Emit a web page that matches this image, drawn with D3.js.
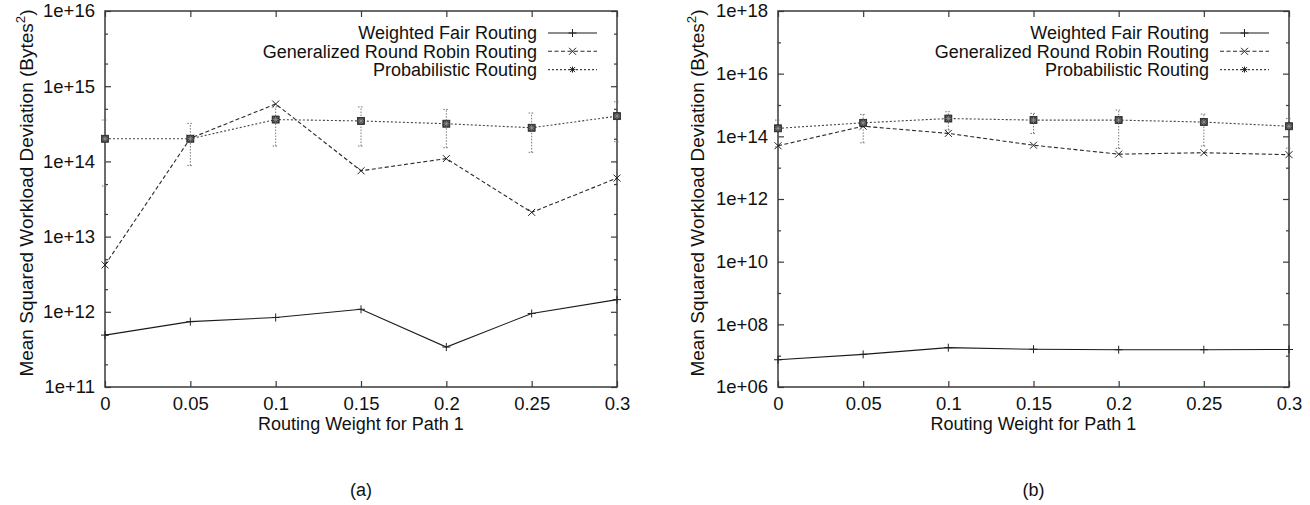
<!DOCTYPE html>
<html>
<head>
<meta charset="utf-8">
<script src="https://cdn.jsdelivr.net/npm/d3@7"></script>
<style>
  html, body { margin: 0; padding: 0; background: #fff; }
  svg { display: block; font-family: "Liberation Sans", Arial, sans-serif; }
</style>
</head>
<body>
<svg id="chart" width="1310" height="505"></svg>
<script>
// Routing weight for path 1 (shared x values)
const xVals = [0, 0.05, 0.1, 0.15, 0.2, 0.25, 0.3];
const xTickLabels = ["0", "0.05", "0.1", "0.15", "0.2", "0.25", "0.3"];

const seriesNames = ["Weighted Fair Routing", "Generalized Round Robin Routing", "Probabilistic Routing"];

// Panel (a)
const wfrA = [4.9e11, 7.4e11, 8.4e11, 1.08e12, 3.4e11, 9.5e11, 1.45e12];
const grrA = [4.2e12, 2.03e14, 5.8e14, 7.5e13, 1.09e14, 2.1e13, 6.0e13];
const probA = [2.0e14, 2.0e14, 3.6e14, 3.45e14, 3.17e14, 2.8e14, 4.0e14];
const probALow = [4.7e13, 8.8e13, 1.6e14, 1.6e14, 1.52e14, 1.32e14, 1.83e14];
const probAHigh = [3.55e14, 3.2e14, 5.3e14, 5.3e14, 4.9e14, 4.4e14, 6.2e14];
const yTicksA = [1e11, 1e12, 1e13, 1e14, 1e15, 1e16];
const yTickLabelsA = ["1e+11", "1e+12", "1e+13", "1e+14", "1e+15", "1e+16"];

// Panel (b)
const wfrB = [7.4e6, 1.1e7, 1.8e7, 1.6e7, 1.55e7, 1.55e7, 1.57e7];
const grrB = [5.0e13, 2.1e14, 1.24e14, 5.2e13, 2.7e13, 3.0e13, 2.6e13];
const probB = [1.8e14, 2.7e14, 3.7e14, 3.3e14, 3.3e14, 2.85e14, 2.1e14];
const probBLow = [4.6e13, 6.2e13, 1.6e14, 1.24e14, 4.1e13, 4.9e13, 4.2e13];
const probBHigh = [3.3e14, 5.0e14, 6.1e14, 5.4e14, 6.9e14, 5.1e14, 3.7e14];
const yTicksB = [1e6, 1e8, 1e10, 1e12, 1e14, 1e16, 1e18];
const yTickLabelsB = ["1e+06", "1e+08", "1e+10", "1e+12", "1e+14", "1e+16", "1e+18"];

const xTitle = "Routing Weight for Path 1";
const panelCaptions = ["(a)", "(b)"];

const TICK_FONT = 18.5;
const LEGEND_FONT = 18;
const TITLE_FONT = 18;
const YTITLE_FONT = 19;
const svg = d3.select("#chart");

const styles = {
  wfr:  { stroke: "#1a1a1a", dash: null,  width: 1.1 },
  grr:  { stroke: "#2a2a2a", dash: "4,2.5", width: 1.1 },
  prob: { stroke: "#444",    dash: "2,2", width: 1.1 }
};

function drawMarker(g, type, cx, cy) {
  if (type === "wfr") {
    g.append("path").attr("d", `M${cx - 4},${cy}H${cx + 4}M${cx},${cy - 4}V${cy + 4}`)
      .attr("stroke", "#222").attr("stroke-width", 1);
  } else if (type === "grr") {
    g.append("path").attr("d", `M${cx - 3.5},${cy - 3.5}L${cx + 3.5},${cy + 3.5}M${cx - 3.5},${cy + 3.5}L${cx + 3.5},${cy - 3.5}`)
      .attr("stroke", "#222").attr("stroke-width", 1);
  } else {
    g.append("rect").attr("x", cx - 3.5).attr("y", cy - 3.5).attr("width", 7).attr("height", 7)
      .attr("fill", "#3f3f3f").attr("stroke", "#222").attr("stroke-width", 0.8);
    g.append("path").attr("d", `M${cx - 3},${cy}H${cx + 3}M${cx},${cy - 3}V${cy + 3}M${cx - 2.2},${cy - 2.2}L${cx + 2.2},${cy + 2.2}M${cx - 2.2},${cy + 2.2}L${cx + 2.2},${cy - 2.2}`)
      .attr("stroke", "#999").attr("stroke-width", 0.7);
  }
}

function panel(opts) {
  const { x0, x1, y0, y1, domainY, majors, majorLabels, minors, wfr, grr, prob, low, high, caption } = opts;
  const g = svg.append("g");
  const x = d3.scaleLinear().domain([0, 0.3]).range([x0, x1]);
  const y = d3.scaleLog().domain(domainY).range([y1, y0]);

  // Frame
  g.append("rect").attr("x", x0).attr("y", y0).attr("width", x1 - x0).attr("height", y1 - y0)
    .attr("fill", "none").attr("stroke", "#3a3a3a").attr("stroke-width", 1.5);

  const tickStyle = sel => {
    sel.select(".domain").remove();
    sel.selectAll(".tick line").attr("stroke", "#3a3a3a").attr("stroke-width", 1.2);
    sel.selectAll("text").attr("font-size", TICK_FONT).attr("fill", "#111")
      .attr("font-family", '"Liberation Sans", Arial, sans-serif');
  };

  // Bottom axis with labels, inward ticks
  g.append("g").attr("transform", `translate(0,${y1})`)
    .call(d3.axisBottom(x).tickValues(xVals).tickFormat((d, i) => xTickLabels[i]).tickSizeInner(-6).tickSizeOuter(0).tickPadding(10))
    .call(tickStyle);
  // Top mirror ticks
  g.append("g").attr("transform", `translate(0,${y0})`)
    .call(d3.axisTop(x).tickValues(xVals).tickFormat("").tickSizeInner(-6).tickSizeOuter(0))
    .call(tickStyle);

  // Left axis with labels
  g.append("g").attr("transform", `translate(${x0},0)`)
    .call(d3.axisLeft(y).tickValues(majors).tickFormat((d, i) => majorLabels[i]).tickSizeInner(-6).tickSizeOuter(0).tickPadding(10))
    .call(tickStyle);
  g.append("g").attr("transform", `translate(${x0},0)`)
    .call(d3.axisLeft(y).tickValues(minors).tickFormat("").tickSizeInner(-3).tickSizeOuter(0))
    .call(tickStyle);
  // Right mirror ticks
  g.append("g").attr("transform", `translate(${x1},0)`)
    .call(d3.axisRight(y).tickValues(majors).tickFormat("").tickSizeInner(-6).tickSizeOuter(0))
    .call(tickStyle);
  g.append("g").attr("transform", `translate(${x1},0)`)
    .call(d3.axisRight(y).tickValues(minors).tickFormat("").tickSizeInner(-3).tickSizeOuter(0))
    .call(tickStyle);

  const line = d3.line().x((d, i) => x(xVals[i])).y(d => y(d));

  // Error bars for probabilistic routing
  const eb = g.append("g").attr("stroke", "#777").attr("stroke-width", 1).attr("stroke-dasharray", "1.5,1.5");
  xVals.forEach((xv, i) => {
    const cx = x(xv);
    eb.append("line").attr("x1", cx).attr("x2", cx).attr("y1", y(low[i])).attr("y2", y(high[i]));
    eb.append("line").attr("x1", cx - 3).attr("x2", cx + 3).attr("y1", y(low[i])).attr("y2", y(low[i]));
    eb.append("line").attr("x1", cx - 3).attr("x2", cx + 3).attr("y1", y(high[i])).attr("y2", y(high[i]));
  });

  const series = [["wfr", wfr], ["grr", grr], ["prob", prob]];
  series.forEach(([key, vals]) => {
    const s = styles[key];
    g.append("path").datum(vals).attr("d", line).attr("fill", "none")
      .attr("stroke", s.stroke).attr("stroke-width", s.width)
      .attr("stroke-dasharray", s.dash);
    vals.forEach((v, i) => drawMarker(g, key, x(xVals[i]), y(v)));
  });

  // Legend
  const legRight = x1 - 80, lx0 = x1 - 69, lx1 = x1 - 20;
  series.forEach(([key], i) => {
    const ly = y0 + 22 + i * 18.3;
    g.append("text").attr("x", legRight).attr("y", ly).attr("dy", "0.35em")
      .attr("text-anchor", "end").attr("font-size", LEGEND_FONT).attr("fill", "#111").text(seriesNames[i]);
    const s = styles[key];
    g.append("line").attr("x1", lx0).attr("x2", lx1).attr("y1", ly).attr("y2", ly)
      .attr("stroke", s.stroke).attr("stroke-width", s.width).attr("stroke-dasharray", s.dash);
    const mx = (lx0 + lx1) / 2;
    if (key === "prob") {
      g.append("path").attr("d", `M${mx - 3},${ly}H${mx + 3}M${mx},${ly - 3}V${ly + 3}M${mx - 2.5},${ly - 2.5}L${mx + 2.5},${ly + 2.5}M${mx - 2.5},${ly + 2.5}L${mx + 2.5},${ly - 2.5}`)
        .attr("stroke", "#222").attr("stroke-width", 1);
    } else {
      drawMarker(g, key, mx, ly);
    }
  });

  // Axis titles
  g.append("text").attr("x", (x0 + x1) / 2).attr("y", 430).attr("text-anchor", "middle")
    .attr("font-size", TITLE_FONT).attr("fill", "#111").text(xTitle);

  const yt = g.append("text").attr("transform", `translate(${opts.yTitleX},${(y0 + y1) / 2 - 6}) rotate(-90)`)
    .attr("text-anchor", "middle").attr("font-size", YTITLE_FONT).attr("fill", "#111");
  yt.append("tspan").text("Mean Squared Workload Deviation (Bytes");
  yt.append("tspan").attr("font-size", YTITLE_FONT * 0.7).attr("dy", "-0.6em").text("2");
  yt.append("tspan").attr("dy", "0.42em").text(")");

  g.append("text").attr("x", (x0 + x1) / 2).attr("y", 496).attr("text-anchor", "middle")
    .attr("font-size", TITLE_FONT).attr("fill", "#111").text(caption);
}

const minorsA = [];
for (let e = 11; e < 16; e++) { minorsA.push(2 * 10 ** e, 5 * 10 ** e); }
const minorsB = [];
for (let e = 7; e < 18; e += 2) { minorsB.push(10 ** e); }

panel({
  x0: 105, x1: 617, y0: 11, y1: 387, domainY: [1e11, 1e16],
  majors: yTicksA, majorLabels: yTickLabelsA, minors: minorsA,
  wfr: wfrA, grr: grrA, prob: probA, low: probALow, high: probAHigh,
  yTitleX: 33, caption: panelCaptions[0]
});

panel({
  x0: 778, x1: 1289, y0: 11, y1: 387, domainY: [1e6, 1e18],
  majors: yTicksB, majorLabels: yTickLabelsB, minors: minorsB,
  wfr: wfrB, grr: grrB, prob: probB, low: probBLow, high: probBHigh,
  yTitleX: 704, caption: panelCaptions[1]
});
</script>
</body>
</html>
